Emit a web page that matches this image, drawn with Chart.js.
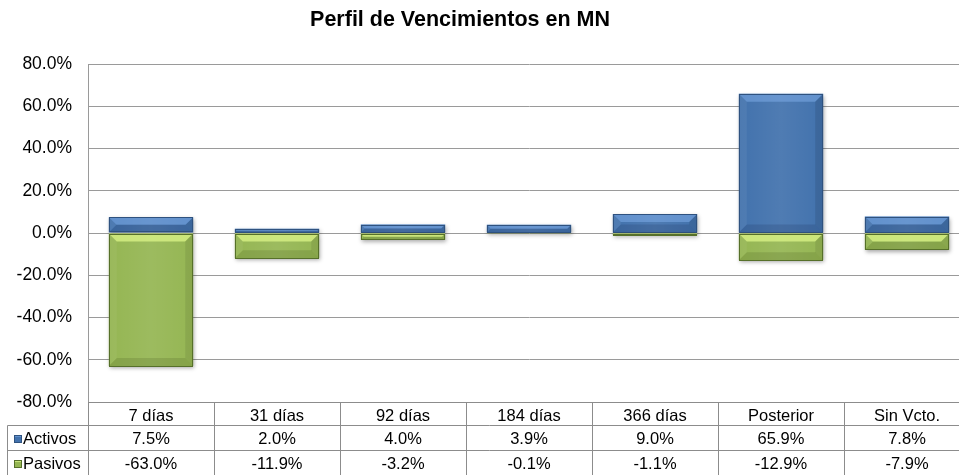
<!DOCTYPE html>
<html>
<head>
<meta charset="utf-8">
<script src="https://cdn.jsdelivr.net/npm/chart.js@4.4.1/dist/chart.umd.min.js"></script>
<style>
  html, body { margin: 0; padding: 0; background: #fff; overflow: hidden; }
  #wrap { width: 972px; height: 475px; position: relative; }
</style>
</head>
<body>
<div id="wrap"><canvas id="chart"></canvas></div>
<script>
// Perfil de Vencimientos en MN: activos vs pasivos por plazo (en %)
const title = 'Perfil de Vencimientos en MN';
const categories = ['7 días', '31 días', '92 días', '184 días', '366 días', 'Posterior', 'Sin Vcto.'];
const activos = [7.5, 2.0, 4.0, 3.9, 9.0, 65.9, 7.8];
const pasivos = [-63.0, -11.9, -3.2, -0.1, -1.1, -12.9, -7.9];
const seriesNames = ['Activos', 'Pasivos'];
const yMin = -80, yMax = 80, yStep = 20;

const FONT = "'Liberation Sans', Arial, sans-serif";
const fmt = (v) => v.toFixed(1) + '%';

// bevel look per series: base fill, border, top highlight, bottom shade
const looks = [
  { fill: '#4272ad', border: '#2f527f', top: 'rgba(130,175,235,0.5)', bottom: 'rgba(20,40,80,0.18)', left: 'rgba(255,255,255,0.06)', right: 'rgba(0,0,0,0.10)' },
  { fill: '#95b653', border: '#56702a', top: 'rgba(225,250,140,0.7)', bottom: 'rgba(60,80,20,0.18)', left: 'rgba(255,255,255,0.05)', right: 'rgba(0,0,0,0.08)' }
];

function poly(ctx, pts, color) {
  ctx.beginPath();
  ctx.moveTo(pts[0][0], pts[0][1]);
  for (let i = 1; i < pts.length; i++) ctx.lineTo(pts[i][0], pts[i][1]);
  ctx.closePath();
  ctx.fillStyle = color;
  ctx.fill();
}

// shadow under bars + bevel overlay on top of each bar element
const bevelPlugin = {
  id: 'bevel',
  beforeDatasetDraw(chart) {
    const ctx = chart.ctx;
    ctx.save();
    ctx.shadowColor = 'rgba(0,0,0,0.35)';
    ctx.shadowBlur = 4;
    ctx.shadowOffsetX = 1;
    ctx.shadowOffsetY = 2;
  },
  afterDatasetDraw(chart, args) {
    const ctx = chart.ctx;
    ctx.restore();
    const look = looks[args.index];
    args.meta.data.forEach((bar) => {
      const { x, y, base, width } = bar.getProps(['x', 'y', 'base', 'width'], true);
      const l = x - width / 2, r = x + width / 2;
      const t = Math.min(y, base), b = Math.max(y, base);
      const h = b - t;
      if (h < 0.6) return;
      const e = Math.min(8, h / 2, width / 2);
      ctx.save();
      // soft inner light
      const g = ctx.createLinearGradient(l, 0, r, 0);
      g.addColorStop(0, 'rgba(255,255,255,0)');
      g.addColorStop(0.5, 'rgba(255,255,255,0.07)');
      g.addColorStop(1, 'rgba(255,255,255,0)');
      ctx.fillStyle = g;
      ctx.fillRect(l, t, width, h);
      poly(ctx, [[l, t], [r, t], [r - e, t + e], [l + e, t + e]], look.top);
      poly(ctx, [[l, b], [r, b], [r - e, b - e], [l + e, b - e]], look.bottom);
      poly(ctx, [[l, t], [l + e, t + e], [l + e, b - e], [l, b]], look.left);
      poly(ctx, [[r, t], [r - e, t + e], [r - e, b - e], [r, b]], look.right);
      ctx.strokeStyle = look.border;
      ctx.lineWidth = 1;
      ctx.strokeRect(Math.round(l) + 0.5, Math.round(t) + 0.5, Math.round(width) - 1, Math.max(0, Math.round(h) - 1));
      ctx.restore();
    });
  }
};

// title + data table under the plot, columns taken from the x scale
const tablePlugin = {
  id: 'dataTable',
  afterDraw(chart) {
    const { ctx, chartArea: a, scales: { x } } = chart;
    const right = chart.width;
    const r0 = Math.round(a.bottom) + 0.5;
    const rowLines = [r0, r0 + 23, r0 + 48, r0 + 73];
    const legendLeft = 7.5;

    ctx.save();
    // title
    ctx.fillStyle = '#000';
    ctx.font = 'bold 21.5px ' + FONT;
    ctx.textAlign = 'center';
    ctx.textBaseline = 'middle';
    ctx.fillText(title, 460, 20);

    // grid of the table
    ctx.strokeStyle = '#8c8c8c';
    ctx.lineWidth = 1;
    ctx.beginPath();
    ctx.moveTo(a.left, rowLines[0]); ctx.lineTo(right, rowLines[0]);
    for (let k = 1; k < rowLines.length; k++) {
      ctx.moveTo(legendLeft, rowLines[k]); ctx.lineTo(right, rowLines[k]);
    }
    ctx.moveTo(legendLeft, rowLines[1]); ctx.lineTo(legendLeft, rowLines[3]);
    for (let i = 0; i <= categories.length; i++) {
      const bx = Math.round(x.getPixelForValue(i - 0.5)) + 0.5;
      ctx.moveTo(bx, rowLines[0]); ctx.lineTo(bx, rowLines[3]);
    }
    ctx.stroke();

    // texts
    ctx.font = '16.5px ' + FONT;
    ctx.fillStyle = '#000';
    ctx.textAlign = 'center';
    const mid = (k) => (rowLines[k] + rowLines[k + 1]) / 2 + 1;
    categories.forEach((c, i) => {
      const cx = x.getPixelForValue(i);
      ctx.fillText(c, cx, mid(0) + 1);
      ctx.fillText(fmt(activos[i]), cx, mid(1));
      ctx.fillText(fmt(pasivos[i]), cx, mid(2));
    });

    // legend keys
    ctx.textAlign = 'left';
    seriesNames.forEach((name, k) => {
      const cy = mid(k + 1);
      const look = looks[k];
      ctx.fillStyle = look.fill;
      ctx.fillRect(14, cy - 4, 8, 8);
      ctx.fillStyle = look.top;
      ctx.fillRect(14, cy - 4, 8, 2);
      ctx.strokeStyle = look.border;
      ctx.strokeRect(14.5, cy - 3.5, 7, 7);
      ctx.fillStyle = '#000';
      ctx.fillText(name, 23, cy);
    });
    ctx.restore();
  }
};

new Chart(document.getElementById('chart'), {
  type: 'bar',
  data: {
    labels: categories,
    datasets: [
      { label: seriesNames[0], data: activos, backgroundColor: looks[0].fill, borderWidth: 0, order: 1 },
      { label: seriesNames[1], data: pasivos, backgroundColor: looks[1].fill, borderWidth: 0, order: 0 }
    ]
  },
  options: {
    responsive: true,
    maintainAspectRatio: false,
    animation: false,
    layout: { padding: { left: 0, right: 2, top: 64, bottom: 73 } },
    datasets: { bar: { categoryPercentage: 1, barPercentage: 0.67 } },
    plugins: { legend: { display: false }, title: { display: false }, tooltip: { enabled: false } },
    scales: {
      x: {
        stacked: true,
        display: false
      },
      y: {
        stacked: true,
        min: yMin,
        max: yMax,
        afterFit: (s) => { s.width = 88; },
        ticks: {
          stepSize: yStep,
          padding: 16,
          color: '#000',
          font: { family: FONT, size: 17.5 },
          callback: (v) => fmt(v)
        },
        grid: { color: '#9a9a9a', drawTicks: false },
        border: { color: '#9a9a9a' }
      }
    }
  },
  plugins: [bevelPlugin, tablePlugin]
});
</script>
</body>
</html>
